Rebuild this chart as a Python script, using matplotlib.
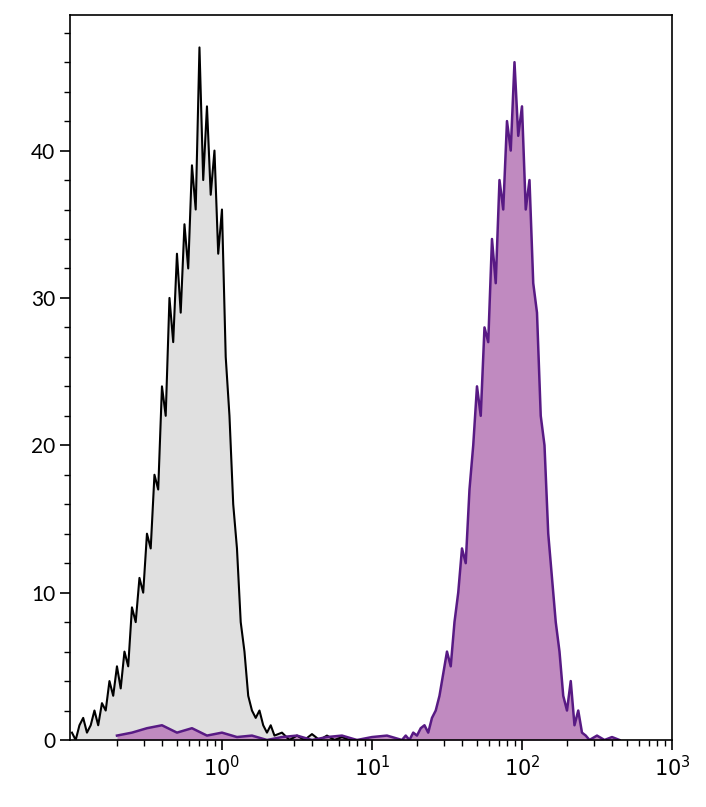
import numpy as np
import matplotlib
matplotlib.use("Agg")
import matplotlib.pyplot as plt

grey_logx = [-1.0,-0.975,-0.95,-0.925,-0.9,-0.875,-0.85,-0.825,-0.8,-0.775,-0.75,-0.725,-0.7,-0.675,-0.65,-0.625,-0.6,-0.575,-0.55,-0.525,-0.5,-0.475,-0.45,-0.425,-0.4,-0.375,-0.35,-0.325,-0.3,-0.275,-0.25,-0.225,-0.2,-0.175,-0.15,-0.125,-0.1,-0.075,-0.05,-0.025,0.0,0.025,0.05,0.075,0.1,0.125,0.15,0.175,0.2,0.225,0.25,0.275,0.3,0.325,0.35,0.4,0.45,0.5,0.55,0.6,0.65,0.7,0.75,0.8,0.85,0.9]
grey_counts = [0.5,0,1,1.5,0.5,1,2,1,2.5,2,4,3,5,3.5,6,5,9,8,11,10,14,13,18,17,24,22,30,27,33,29,35,32,39,36,47,38,43,37,40,33,36,26,22,16,13,8,6,3,2,1.5,2,1,0.5,1,0.3,0.5,0,0.3,0,0.4,0,0.3,0,0.2,0,0]

purple_logx = [-0.7,-0.6,-0.5,-0.4,-0.3,-0.2,-0.1,0.0,0.1,0.2,0.3,0.4,0.5,0.6,0.7,0.8,0.9,1.0,1.1,
               1.2,1.225,1.25,1.275,1.3,1.325,1.35,1.375,1.4,1.425,1.45,1.475,1.5,1.525,1.55,1.575,1.6,1.625,1.65,1.675,1.7,1.725,1.75,1.775,1.8,1.825,1.85,1.875,1.9,1.925,1.95,1.975,2.0,2.025,2.05,2.075,2.1,2.125,2.15,2.175,2.2,2.225,2.25,2.275,2.3,2.325,2.35,2.375,2.4,2.425,2.45,2.5,2.55,2.6,2.65]
purple_counts = [0.3,0.5,0.8,1,0.5,0.8,0.3,0.5,0.2,0.3,0,0.2,0.3,0,0.2,0.3,0,0.2,0.3,
                 0,0.3,0,0.5,0.3,0.8,1,0.5,1.5,2,3,4.5,6,5,8,10,13,12,17,20,24,22,28,27,34,31,38,36,42,40,46,41,43,36,38,31,29,22,20,14,11,8,6,3,2,4,1,2,0.5,0.3,0,0.3,0,0.2,0]

plt.rcParams['font.family'] = ['Lato', 'DejaVu Sans']
fig = plt.figure(figsize=(7.06, 8.07), dpi=100)
ax = fig.add_axes([70/706, 67/807, 602/706, 725/807])

gx = 10 ** np.array(grey_logx)
px = 10 ** np.array(purple_logx)
ax.fill_between(gx, grey_counts, color='#e0e0e0', lw=0)
ax.plot(gx, grey_counts, color='black', lw=1.5)
ax.fill_between(px, purple_counts, color='#c08ac0', lw=0)
ax.plot(px, purple_counts, color='#581a84', lw=1.8)

ax.set_xscale('log')
ax.set_xlim(10**-1.013, 1000)
ax.set_ylim(0, 49.2)
ax.set_xticks([1, 10, 100, 1000])
ax.set_xticklabels([r'$10^0$', r'$10^1$', r'$10^2$', r'$10^3$'])
ax.set_yticks([0, 10, 20, 30, 40])
ax.set_yticks(np.arange(0, 49, 2), minor=True)
ax.tick_params(axis='both', which='major', direction='out', length=7, width=1.2, labelsize=15)
ax.tick_params(axis='both', which='minor', direction='out', length=4, width=1)
for s in ax.spines.values():
    s.set_linewidth(1.2)
fig.savefig('out.png', dpi=100)
